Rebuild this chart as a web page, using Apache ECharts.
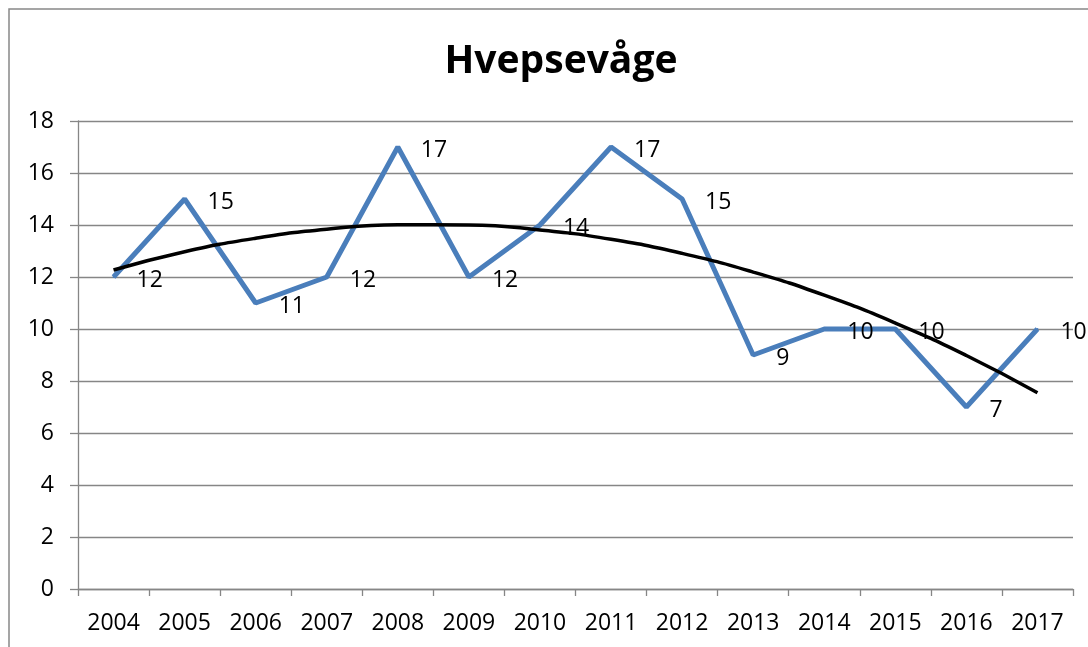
<!DOCTYPE html>
<html>
<head>
<meta charset="utf-8">
<script src="https://cdn.jsdelivr.net/npm/echarts@6/dist/echarts.min.js"></script>
<style>
  html, body { margin: 0; padding: 0; background: #fff; }
  #chart { width: 1088px; height: 647px; }
</style>
</head>
<body>
<div id="chart"></div>
<script>
const years = ['2004', '2005', '2006', '2007', '2008', '2009', '2010',
  '2011', '2012', '2013', '2014', '2015', '2016', '2017'];
const counts = [12, 15, 11, 12, 17, 12, 14, 17, 15, 9, 10, 10, 7, 10];
// trend curve at each year
const trend = [12.27, 12.97, 13.49, 13.84, 14.01, 14.0, 13.81,
  13.45, 12.91, 12.19, 11.3, 10.23, 8.98, 7.55];

const font = '"Open Sans", sans-serif';
const gridColor = '#868686';

const chart = echarts.init(document.getElementById('chart'));

chart.setOption({
  backgroundColor: '#fff',
  animation: false,
  title: {
    text: 'Hvepsevåge',
    left: 556,
    top: 37,
    textAlign: 'center',
    textStyle: { fontFamily: font, fontWeight: 'bold', fontSize: 39, color: '#000' }
  },
  graphic: [{
    type: 'rect',
    shape: { x: 9, y: 9, width: 1200, height: 800 },
    style: { fill: 'none', stroke: '#888', lineWidth: 1.5 },
    silent: true
  }],
  grid: { left: 78, right: 15, top: 121, bottom: 58 },
  xAxis: {
    type: 'category',
    data: years,
    boundaryGap: true,
    axisLine: { lineStyle: { color: gridColor, width: 1.3 } },
    axisTick: { show: true, length: 7, lineStyle: { color: gridColor, width: 1.3 } },
    axisLabel: { color: '#000', fontFamily: font, fontSize: 23, margin: 23 },
    splitLine: { show: false }
  },
  yAxis: {
    type: 'value',
    min: 0,
    max: 18,
    interval: 2,
    axisLine: { show: true, lineStyle: { color: gridColor, width: 1.3 } },
    axisTick: { show: true, length: 8, lineStyle: { color: gridColor, width: 1.3 } },
    axisLabel: { color: '#000', fontFamily: font, fontSize: 23, margin: 24 },
    splitLine: { lineStyle: { color: gridColor, width: 1.3 } }
  },
  series: [
    {
      name: 'Hvepsevåge',
      type: 'line',
      data: counts,
      symbol: 'circle',
      symbolSize: 2,
      itemStyle: { color: '#4a7ebb' },
      lineStyle: { color: '#4a7ebb', width: 5 },
      label: {
        show: true,
        position: 'right',
        distance: 22,
        offset: [0, 3],
        color: '#000',
        fontFamily: font,
        fontSize: 23
      },
      z: 2
    },
    {
      name: 'trend',
      type: 'line',
      data: trend,
      smooth: true,
      symbol: 'none',
      lineStyle: { color: '#000', width: 3.5 },
      z: 3
    }
  ]
});
</script>
</body>
</html>
